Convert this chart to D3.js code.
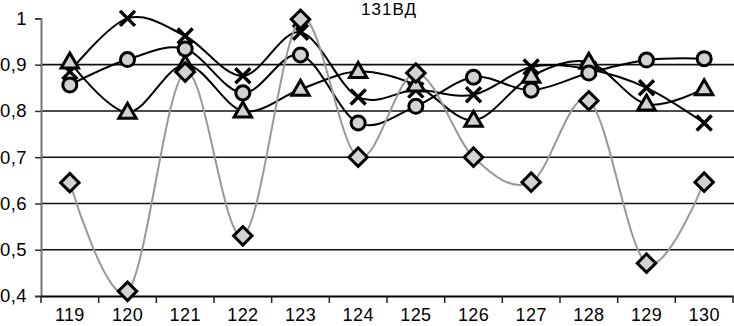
<!DOCTYPE html>
<html>
<head>
<meta charset="utf-8">
<script src="https://cdn.jsdelivr.net/npm/d3@7"></script>
<style>
  body { margin: 0; background: #fff; }
  text { font-family: "Liberation Sans", Arial, sans-serif; fill: #000; }
</style>
</head>
<body>
<svg id="chart" width="734" height="326"></svg>
<script>
// data
var title = "131ВД";
var categories = ["119", "120", "121", "122", "123", "124", "125", "126", "127", "128", "129", "130"];
var yTicks = [0.4, 0.5, 0.6, 0.7, 0.8, 0.9, 1];
var gridValues = [0.5, 0.6, 0.7, 0.8, 0.9];

var crossValues    = [0.885, 1.0, 0.962, 0.876, 0.97, 0.83, 0.845, 0.835, 0.895, 0.89, 0.85, 0.774];
var triangleValues = [0.906, 0.797, 0.90, 0.80, 0.847, 0.885, 0.856, 0.78, 0.875, 0.905, 0.815, 0.848];
var circleValues   = [0.856, 0.911, 0.934, 0.839, 0.921, 0.774, 0.81, 0.873, 0.845, 0.882, 0.91, 0.913];
var diamondValues  = [0.645, 0.41, 0.884, 0.53, 0.998, 0.70, 0.882, 0.70, 0.646, 0.822, 0.471, 0.646];

var margin = {left: 41, right: 1, top: 18.4, bottom: 30};
var W = 734, H = 326;

var svg = d3.select("#chart");

var x = d3.scaleBand()
    .domain(categories)
    .range([margin.left, W - margin.right])
    .padding(0);

var y = d3.scaleLinear()
    .domain([0.4, 1])
    .range([H - margin.bottom, margin.top]);

var fmt = function(d) { return String(d).replace(".", ","); };

// gridlines
svg.append("g").selectAll("line")
    .data(gridValues)
    .enter().append("line")
    .attr("x1", margin.left)
    .attr("x2", W)
    .attr("y1", function(d) { return y(d); })
    .attr("y2", function(d) { return y(d); })
    .attr("stroke", "#111")
    .attr("stroke-width", 1.6);

// y axis
var yAxis = d3.axisLeft(y).tickValues(yTicks).tickFormat(fmt).tickSize(6).tickPadding(8);
var gy = svg.append("g")
    .attr("transform", "translate(" + margin.left + ",0)")
    .call(yAxis);
gy.select(".domain").attr("stroke", "#777").attr("stroke-width", 2);
gy.selectAll(".tick line").attr("stroke", "#333").attr("stroke-width", 1.5);
gy.selectAll("text")
    .attr("font-size", "18.5px")
    .attr("letter-spacing", "0.4px")
    .attr("fill", "#000");

// x axis (labels at centres, ticks at category boundaries)
var xAxis = d3.axisBottom(x).tickSize(0).tickPadding(11);
var gx = svg.append("g")
    .attr("transform", "translate(0," + y(0.4) + ")")
    .call(xAxis);
gx.select(".domain").attr("stroke", "#000").attr("stroke-width", 2);
gx.selectAll("text")
    .attr("font-size", "18px")
    .attr("letter-spacing", "0.4px")
    .attr("dy", "0.8em")
    .attr("fill", "#000");

var bounds = categories.map(function(c) { return x(c); }).concat([x(categories[categories.length - 1]) + x.bandwidth()]);
gx.selectAll(".bound")
    .data(bounds)
    .enter().append("line")
    .attr("class", "bound")
    .attr("x1", function(d) { return d; })
    .attr("x2", function(d) { return d; })
    .attr("y1", 0)
    .attr("y2", 7)
    .attr("stroke", "#222")
    .attr("stroke-width", 1.5);

// title
svg.append("text")
    .attr("x", 389)
    .attr("y", 15)
    .attr("text-anchor", "middle")
    .attr("font-size", "17px")
    .attr("letter-spacing", "1px")
    .text(title);

var cx = function(d, i) { return x(categories[i]) + x.bandwidth() / 2; };

var line = d3.line()
    .curve(d3.curveCardinal.tension(0))
    .x(cx)
    .y(function(d) { return y(d); });

var fillGray = "#d2d2d2";

var series = [
  {values: crossValues,    marker: "cross",    color: "#000"},
  {values: triangleValues, marker: "triangle", color: "#000"},
  {values: circleValues,   marker: "circle",   color: "#000"},
  {values: diamondValues,  marker: "diamond",  color: "#999"}
];

var symbolPath = {
  triangle: d3.symbol().type(d3.symbolTriangle).size(130)(),
  circle: d3.symbol().type(d3.symbolCircle).size(155)(),
  diamond: d3.symbol().type(d3.symbolSquare).size(170)()
};

series.forEach(function(s) {
  var g = svg.append("g");
  g.append("path")
      .datum(s.values)
      .attr("d", line)
      .attr("fill", "none")
      .attr("stroke", s.color)
      .attr("stroke-width", 2);

  var pts = g.selectAll(".pt")
      .data(s.values)
      .enter().append("g")
      .attr("transform", function(d, i) { return "translate(" + cx(d, i) + "," + y(d) + ")"; });

  if (s.marker === "cross") {
    pts.append("path")
        .attr("d", "M-7.5,-7.5L7.5,7.5M-7.5,7.5L7.5,-7.5")
        .attr("stroke", "#000")
        .attr("stroke-width", 3.4)
        .attr("fill", "none");
  } else {
    pts.append("path")
        .attr("d", symbolPath[s.marker])
        .attr("transform", s.marker === "diamond" ? "rotate(45)" : (s.marker === "triangle" ? "translate(0,1)" : null))
        .attr("fill", fillGray)
        .attr("stroke", "#000")
        .attr("stroke-width", 3)
        .attr("stroke-linejoin", "miter");
  }
});
</script>
</body>
</html>
